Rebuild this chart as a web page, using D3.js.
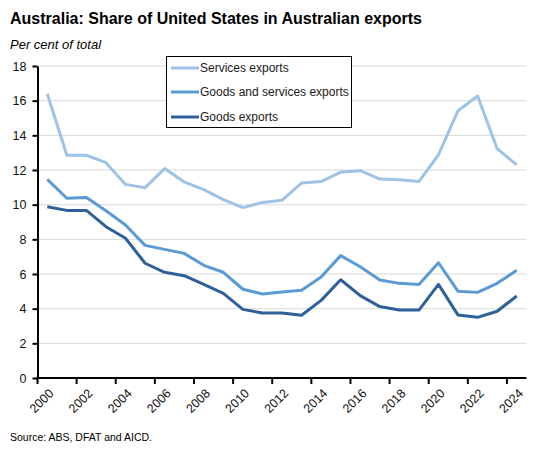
<!DOCTYPE html>
<meta charset="utf-8">
<style>
body { margin: 0; padding: 0; background: #fff; }
svg { font-family: "Liberation Sans", Arial, sans-serif; }
.grid line { stroke: #d9d9d9; stroke-width: 1px; }
.axis path, .axis line { stroke: #000; stroke-width: 2px; }
.axis text { font-size: 12.5px; fill: #111; }
.series { fill: none; stroke-width: 3px; stroke-linejoin: round; }
.legend text { font-size: 12px; fill: #1a1a1a; }
</style>
<body>
<script src="https://cdn.jsdelivr.net/npm/d3@7"></script>
<script>
var years = d3.range(2000, 2025);

var services = [16.4, 12.85, 12.85, 12.42, 11.17, 10.98, 12.08, 11.31, 10.87, 10.29,
  9.83, 10.13, 10.25, 11.25, 11.33, 11.88, 11.96, 11.48, 11.44, 11.33,
  12.88, 15.42, 16.27, 13.23, 12.3];
var goodsServices = [11.46, 10.37, 10.42, 9.65, 8.83, 7.65, 7.42, 7.19, 6.5, 6.1,
  5.12, 4.85, 4.96, 5.06, 5.83, 7.06, 6.42, 5.65, 5.46, 5.4,
  6.65, 5.0, 4.94, 5.46, 6.21];
var goods = [9.88, 9.67, 9.67, 8.73, 8.06, 6.62, 6.1, 5.9, 5.4, 4.88,
  3.96, 3.75, 3.75, 3.62, 4.48, 5.67, 4.75, 4.12, 3.92, 3.92,
  5.4, 3.63, 3.5, 3.85, 4.73];

var yTicks = [0, 2, 4, 6, 8, 10, 12, 14, 16, 18];

var seriesNames = ["Services exports", "Goods and services exports", "Goods exports"];
var seriesColors = ["#9dc3e6", "#5b9bd5", "#2e6099"];

var width = 549, height = 454;
var plotLeft = 37.5, plotRight = 526.5, plotTop = 66, plotBottom = 378;

var svg = d3.select("body").append("svg")
    .attr("width", width)
    .attr("height", height);

var x = d3.scaleBand().domain(years).range([plotLeft, plotRight]).padding(0);
var y = d3.scaleLinear().domain([0, 18]).range([plotBottom, plotTop]);

// title
svg.append("text")
    .attr("x", 10).attr("y", 24)
    .style("font-size", "16px").style("font-weight", "bold")
    .text("Australia: Share of United States in Australian exports");
svg.append("text")
    .attr("x", 10).attr("y", 49)
    .style("font-size", "13px").style("font-style", "italic")
    .text("Per cent of total");
svg.append("text")
    .attr("x", 10).attr("y", 441)
    .style("font-size", "10.5px")
    .text("Source: ABS, DFAT and AICD.");

// gridlines
svg.append("g").attr("class", "grid")
  .selectAll("line")
  .data(yTicks.filter(function(d) { return d > 0; }))
  .enter().append("line")
    .attr("x1", plotLeft).attr("x2", plotRight)
    .attr("y1", function(d) { return y(d); })
    .attr("y2", function(d) { return y(d); });

// y axis
svg.append("g").attr("class", "axis")
    .attr("transform", "translate(" + plotLeft + ",0)")
    .call(d3.axisLeft(y).tickValues(yTicks).tickSize(5).tickSizeOuter(0).tickPadding(6))
    .call(function(g) { g.selectAll("text").attr("font-size", null).attr("font-family", null); });

// x axis: ticks on category boundaries of even years, labels at centres
var evenYears = years.filter(function(d) { return d % 2 === 0; });
var xAxis = svg.append("g").attr("class", "axis")
    .attr("transform", "translate(0," + plotBottom + ")");
xAxis.append("line")
    .attr("x1", plotLeft - 1).attr("x2", plotRight);
xAxis.selectAll("line.tick")
  .data(evenYears)
  .enter().append("line")
    .attr("class", "tick")
    .attr("x1", function(d) { return x(d); })
    .attr("x2", function(d) { return x(d); })
    .attr("y1", 0).attr("y2", 6);
xAxis.selectAll("text")
  .data(evenYears)
  .enter().append("text")
    .attr("text-anchor", "end")
    .attr("transform", function(d) {
      return "translate(" + (x(d) + x.bandwidth() / 2 + 4) + ",13) rotate(-45)";
    })
    .attr("dy", "0.35em")
    .text(function(d) { return d; });

// lines
var line = d3.line()
    .x(function(d, i) { return x(years[i]) + x.bandwidth() / 2; })
    .y(function(d) { return y(d); });

[services, goodsServices, goods].forEach(function(s, i) {
  svg.append("path")
      .datum(s)
      .attr("class", "series")
      .attr("stroke", seriesColors[i])
      .attr("d", line);
});

// legend
var legend = svg.append("g").attr("class", "legend");
legend.append("rect")
    .attr("x", 166.5).attr("y", 56.5)
    .attr("width", 185).attr("height", 71)
    .attr("fill", "#fff").attr("stroke", "#000").attr("stroke-width", 1);
var rowY = [68, 92, 117];
seriesNames.forEach(function(name, i) {
  legend.append("line")
      .attr("x1", 171).attr("x2", 199)
      .attr("y1", rowY[i]).attr("y2", rowY[i])
      .attr("stroke", seriesColors[i]).attr("stroke-width", 3);
  legend.append("text")
      .attr("x", 200).attr("y", rowY[i])
      .attr("dy", "0.35em")
      .text(name);
});
</script>
</body>
